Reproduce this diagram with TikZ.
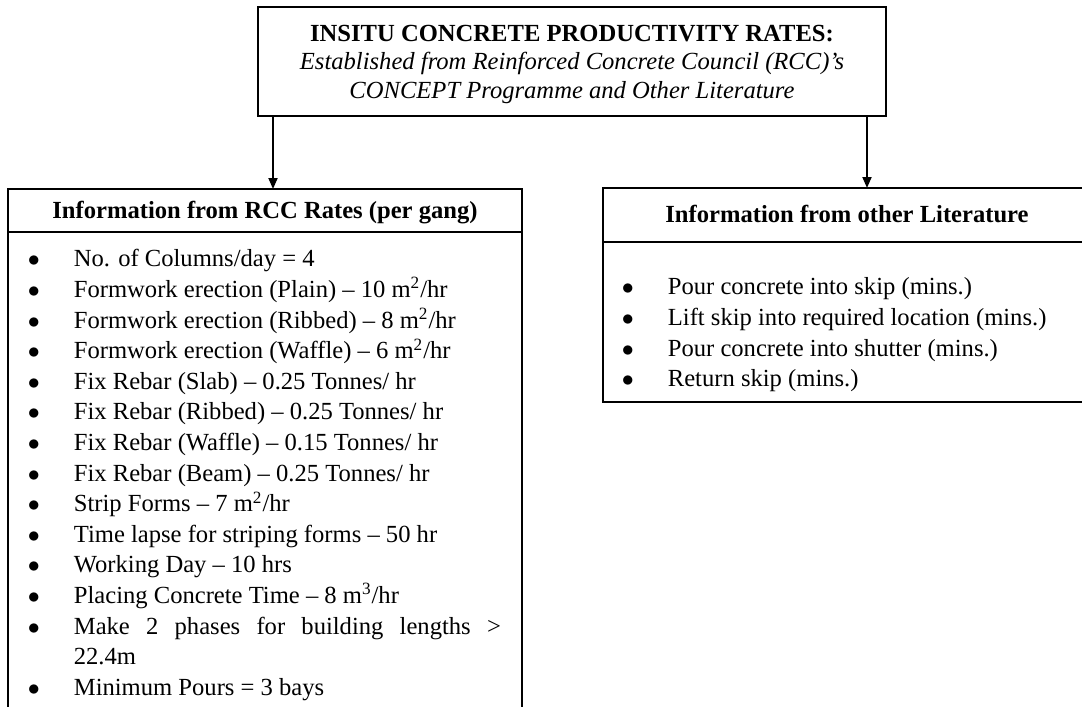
\documentclass[tikz,border=0pt]{standalone}
\usepackage{fontspec}
\setmainfont{Liberation Serif}
\usetikzlibrary{arrows.meta}
\begin{document}
\begin{tikzpicture}[x=0.5pt,y=-0.5pt,line width=0.9pt,inner sep=0pt,
		font=\fontsize{12.3}{15.3}\selectfont,
		>={Triangle[width=4.5pt,length=5.5pt]},
		panel/.style={draw,minimum width=257pt},
		head/.style={draw,font=\fontsize{12.3}{15.3}\selectfont\bfseries,text height=1.7ex,text depth=0pt}]
	\useasboundingbox (0,0) rectangle (1082,707);
	\path (572,61.5) node[draw,minimum width=314pt,minimum height=54.5pt,align=center,
		font=\fontsize{12.3}{14.25}\selectfont,text depth=0pt] (title)
		{\textbf{INSITU CONCRETE PRODUCTIVITY RATES:}\\
		\textit{Established from Reinforced Concrete Council (RCC)'s}\\
		\textit{CONCEPT Programme and Other Literature}};
	%%%
	\path (265,210.5) node[head,minimum width=257pt,minimum height=21.5pt] (lhead) {Information from RCC Rates (per gang)};
	\path (265,478.5) node[panel,minimum height=246.5pt] (lbody) {};
	\path (27,244.6) node[anchor=north west] (llist) {%
		\begin{tabular}{@{}p{23pt}@{}l@{}}
			$\bullet$ & No. of Columns/day = 4\\
			$\bullet$ & Formwork erection (Plain) -- 10 m\textsuperscript{2}/hr\\
			$\bullet$ & Formwork erection (Ribbed) -- 8 m\textsuperscript{2}/hr\\
			$\bullet$ & Formwork erection (Waffle) -- 6 m\textsuperscript{2}/hr\\
			$\bullet$ & Fix Rebar (Slab) -- 0.25 Tonnes/ hr\\
			$\bullet$ & Fix Rebar (Ribbed) -- 0.25 Tonnes/ hr\\
			$\bullet$ & Fix Rebar (Waffle) -- 0.15 Tonnes/ hr\\
			$\bullet$ & Fix Rebar (Beam) -- 0.25 Tonnes/ hr\\
			$\bullet$ & Strip Forms -- 7 m\textsuperscript{2}/hr\\
			$\bullet$ & Time lapse for striping forms -- 50 hr\\
			$\bullet$ & Working Day -- 10 hrs\\
			$\bullet$ & Placing Concrete Time -- 8 m\textsuperscript{3}/hr\\
			$\bullet$ & \makebox[213.5pt][s]{Make 2 phases for building lengths >}\\
			& 22.4m\\
			$\bullet$ & Minimum Pours = 3 bays
		\end{tabular}};
	%%%
	\path (847,215) node[head,minimum width=244pt,minimum height=27pt] (rhead) {Information from other Literature};
	\path (847,322) node[draw,minimum width=244pt,minimum height=80pt] (rbody) {};
	\path (621,272.6) node[anchor=north west] (rlist) {%
		\begin{tabular}{@{}p{23pt}@{}l@{}}
			$\bullet$ & Pour concrete into skip (mins.)\\
			$\bullet$ & Lift skip into required location (mins.)\\
			$\bullet$ & Pour concrete into shutter (mins.)\\
			$\bullet$ & Return skip (mins.)
		\end{tabular}};
	%%%
	\coordinate (lend) at (273,189);
	\coordinate (rend) at (867,188);
	\draw[->] (title.south -| lend)--(lend);
	\draw[->] (title.south -| rend)--(rend);
\end{tikzpicture}
\end{document}
